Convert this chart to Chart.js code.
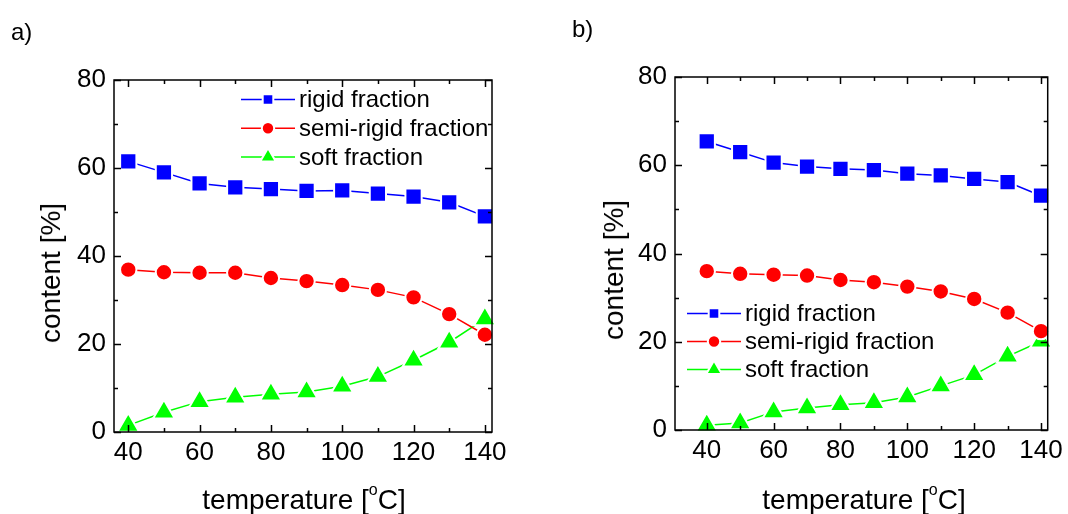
<!DOCTYPE html>
<html>
<head>
<meta charset="utf-8">
<script src="https://cdn.jsdelivr.net/npm/chart.js@4/dist/chart.umd.min.js"></script>
<style>
  body { margin: 0; background: #fff; }
  #wrap { position: relative; width: 1068px; height: 514px; overflow: hidden; font-family: 'Liberation Sans', Arial, sans-serif; color: #000; }
  canvas { position: absolute; top: 0; }
  .tag { position: absolute; font-size: 24px; line-height: 24px; }
  .xtitle { position: absolute; top: 486px; font-size: 28px; line-height: 28px; white-space: nowrap; transform: translateX(-50%); }
  .xtitle .sup { font-size: 16px; position: relative; top: -14px; }
  .ytitle { position: absolute; font-size: 28px; line-height: 28px; white-space: nowrap; transform: translate(-50%, -50%) rotate(-90deg); }
</style>
</head>
<body>
<div id="wrap">
  <canvas id="chartA" width="534" height="514" style="left:0"></canvas>
  <canvas id="chartB" width="534" height="514" style="left:534px"></canvas>
  <div class="tag" style="left:11px;top:20px">a)</div>
  <div class="tag" style="left:572px;top:17px">b)</div>
  <div class="xtitle" style="left:304px">temperature [<span class="sup">o</span>C]</div>
  <div class="xtitle" style="left:864px">temperature [<span class="sup">o</span>C]</div>
  <div class="ytitle" style="left:51px;top:273px">content [%]</div>
  <div class="ytitle" style="left:614px;top:270px">content [%]</div>
</div>
<script>
// datos
const temps = [40, 50, 60, 70, 80, 90, 100, 110, 120, 130, 140];

const rigidA = [61.5, 59.0, 56.5, 55.6, 55.2, 54.8, 54.9, 54.2, 53.5, 52.2, 49.0];
const semiA  = [36.9, 36.3, 36.2, 36.2, 35.0, 34.3, 33.4, 32.3, 30.6, 26.8, 22.1];
const softA  = [1.5, 4.5, 6.9, 7.9, 8.6, 9.1, 10.4, 12.6, 16.3, 20.4, 25.7];

const rigidB = [65.4, 63.0, 60.6, 59.7, 59.2, 58.9, 58.1, 57.7, 56.9, 56.2, 53.1];
const semiB  = [36.0, 35.4, 35.2, 35.0, 34.0, 33.5, 32.5, 31.4, 29.7, 26.6, 22.4];
const softB  = [1.1, 1.6, 4.1, 5.0, 5.7, 6.2, 7.5, 10.0, 12.5, 16.7, 20.1];

const seriesNames = ['rigid fraction', 'semi-rigid fraction', 'soft fraction'];

// ticks (major cada 20, minor cada 10)
const xTicks = [40, 50, 60, 70, 80, 90, 100, 110, 120, 130, 140];
const yTicks = [0, 10, 20, 30, 40, 50, 60, 70, 80];

const FONT = "'Liberation Sans', Arial, sans-serif";
Chart.defaults.font.family = FONT;
Chart.defaults.color = '#000';

const styles = [
  { color: '#0000ff', pointStyle: 'rect', radius: 11.5, legendRadius: 7.5 },
  { color: '#ff0000', pointStyle: 'circle', radius: 8.2, legendRadius: 6.2 },
  { color: '#00ff00', pointStyle: 'triangle', radius: 12.5, legendRadius: 9 }
];

// marco con ticks hacia dentro + leyenda tipo Origin
const framePlugin = {
  id: 'frame',
  afterDatasetsDraw(chart, args, opts) {
    const { ctx, chartArea: a, scales } = chart;
    const x = scales.x, y = scales.y;
    ctx.save();
    ctx.strokeStyle = '#000';
    ctx.lineWidth = 1.5;
    ctx.strokeRect(a.left, a.top, a.right - a.left, a.bottom - a.top);
    ctx.beginPath();
    xTicks.forEach(v => {
      const px = Math.round(x.getPixelForValue(v)) + 0.5;
      const len = v % 20 === 0 ? 7 : 4;
      ctx.moveTo(px, a.bottom); ctx.lineTo(px, a.bottom - len);
      ctx.moveTo(px, a.top); ctx.lineTo(px, a.top + len);
    });
    yTicks.forEach(v => {
      const py = Math.round(y.getPixelForValue(v)) + 0.5;
      const len = v % 20 === 0 ? 7 : 4;
      ctx.moveTo(a.left, py); ctx.lineTo(a.left + len, py);
      ctx.moveTo(a.right, py); ctx.lineTo(a.right - len, py);
    });
    ctx.stroke();

    // leyenda
    const lx = opts.x, ly = opts.y, gap = opts.gap;
    chart.data.datasets.forEach((ds, i) => {
      const st = styles[i];
      const yy = ly + i * gap;
      ctx.strokeStyle = st.color;
      ctx.lineWidth = 1.5;
      ctx.beginPath();
      ctx.moveTo(lx, yy); ctx.lineTo(lx + 54, yy);
      ctx.stroke();
      ctx.fillStyle = st.color;
      ctx.strokeStyle = '#fff';
      ctx.lineWidth = 2;
      Chart.helpers.drawPoint(ctx, { pointStyle: st.pointStyle, radius: st.legendRadius, rotation: 0, borderWidth: 2 }, lx + 27, yy);
      ctx.fillStyle = '#000';
      ctx.font = '24px ' + FONT;
      ctx.textBaseline = 'middle';
      ctx.textAlign = 'left';
      ctx.fillText(ds.label, lx + 58, yy + 1);
    });
    ctx.restore();
  }
};

function makeChart(id, values, xMin, padding, legendPos) {
  const datasets = values.map((vals, i) => ({
    label: seriesNames[i],
    data: temps.map((t, k) => ({ x: t, y: vals[k] })),
    borderColor: styles[i].color,
    backgroundColor: styles[i].color,
    borderWidth: 1.5,
    pointStyle: styles[i].pointStyle,
    pointRadius: styles[i].radius,
    pointBackgroundColor: styles[i].color,
    pointBorderColor: '#fff',
    pointBorderWidth: 2,
    tension: 0,
    clip: false
  }));
  return new Chart(document.getElementById(id), {
    type: 'line',
    data: { datasets },
    options: {
      responsive: false,
      animation: false,
      layout: { padding },
      plugins: {
        legend: { display: false },
        tooltip: { enabled: false },
        frame: legendPos
      },
      scales: {
        x: {
          type: 'linear',
          min: xMin,
          max: 142,
          grid: { display: false, drawTicks: false },
          border: { display: false },
          afterBuildTicks: s => { s.ticks = xTicks.map(v => ({ value: v })); },
          afterFit: s => { s.height = 50; },
          ticks: {
            autoSkip: false,
            maxRotation: 0,
            padding: 5,
            font: { size: 26 },
            callback: v => (v % 20 === 0 ? String(v) : '')
          }
        },
        y: {
          min: 0,
          max: 80,
          grid: { display: false, drawTicks: false },
          border: { display: false },
          afterBuildTicks: s => { s.ticks = yTicks.map(v => ({ value: v })); },
          afterFit: s => { s.width = 60; },
          ticks: {
            padding: 8,
            font: { size: 26 },
            callback: v => (v % 20 === 0 ? String(v) : '')
          }
        }
      }
    },
    plugins: [framePlugin]
  });
}

makeChart('chartA', [rigidA, semiA, softA], 36,
  { left: 54, right: 42, top: 80, bottom: 32 },
  { x: 241, y: 99.5, gap: 28.7 });

makeChart('chartB', [rigidB, semiB, softB], 30.5,
  { left: 81, right: 16, top: 77, bottom: 34 },
  { x: 153, y: 313.5, gap: 28 });
</script>
</body>
</html>
